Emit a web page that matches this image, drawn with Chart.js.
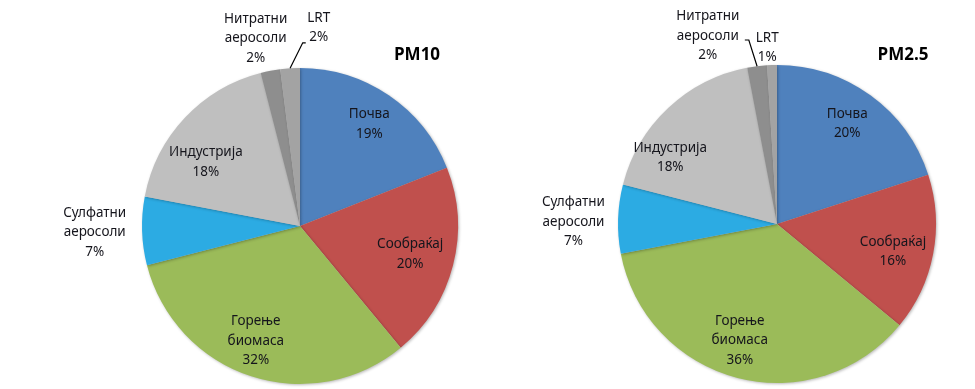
<!DOCTYPE html>
<html><head><meta charset="utf-8">
<script src="https://cdn.jsdelivr.net/npm/chart.js@4"></script>
<style>
html,body{margin:0;padding:0;background:#fff;width:975px;height:389px;overflow:hidden}
.box{position:absolute;top:0;height:389px}
</style></head><body>
<div class="box" style="left:0;width:487px"><canvas id="c1"></canvas></div>
<div class="box" style="left:487px;width:488px"><canvas id="c2"></canvas></div>
<script>
// ---- data ----
const categories = [["Почва"],["Сообраќај"],["Горење","биомаса"],["Сулфатни","аеросоли"],["Индустрија"],["Нитратни","аеросоли"],["LRT"]];
const pm10Values = [19, 20, 32, 7, 18, 2, 2];
const pm25Values = [20, 16, 36, 7, 18, 2, 1];
const titles = ["PM10", "PM2.5"];

// ---- styling / placement ----
const colors = ["#4F81BD","#C0504D","#9BBB59","#2CABE3","#BFBFBF","#8E8E8E","#A3A3A3"];
// label placement: angle delta (deg) from slice mid-angle, radial factor
const place1 = [[0,.78],[0,.72],[3,.78],[0,1.3],[-9,.72],[-2.5,1.22],[9,1.26]];
const place2 = [[-1,.77],[2.7,.75],[3.3,.77],[-1.2,1.28],[-15,.79],[-13,1.26],[-1.4,1.11]];
// leader lines: slice index, px offsets relative to label center for the bend and end
const leader1 = {idx:6, pts:[[-16,15],[-13,15]]};
const leader2 = {idx:5, pts:[[41,4],[37,4]]};

function labelPlugin(place, leader, title, titlePos){
  return {
    id:'lbl',
    beforeDatasetsDraw(chart){
      const ctx=chart.ctx; ctx.save();
      ctx.shadowColor='rgba(0,0,0,0.28)'; ctx.shadowBlur=3; ctx.shadowOffsetX=1; ctx.shadowOffsetY=1;
    },
    afterDatasetsDraw(chart){
      const ctx=chart.ctx; ctx.restore();
      const meta=chart.getDatasetMeta(0);
      const vals=chart.data.datasets[0].data;
      ctx.save();
      ctx.font='13.5px "Noto Sans", "Open Sans", sans-serif';
      ctx.fillStyle='#15151c';
      ctx.textAlign='center'; ctx.textBaseline='middle';
      meta.data.forEach((arc,i)=>{
        const p=arc.getProps(['x','y','startAngle','endAngle','outerRadius'],true);
        const mid=(p.startAngle+p.endAngle)/2 + place[i][0]*Math.PI/180;
        const r=p.outerRadius*place[i][1];
        const cx=p.x+Math.cos(mid)*r, cy=p.y+Math.sin(mid)*r;
        const lines=[...chart.data.labels[i], vals[i]+'%'];
        const lh=19.5;
        lines.forEach((t,k)=>{
          ctx.fillText(t, cx, cy+(k-(lines.length-1)/2)*lh);
        });
        if(leader && leader.idx===i){
          const m=(p.startAngle+p.endAngle)/2;
          const ex=p.x+Math.cos(m)*p.outerRadius, ey=p.y+Math.sin(m)*p.outerRadius;
          ctx.beginPath(); ctx.strokeStyle='#000'; ctx.lineWidth=1.2;
          ctx.moveTo(ex,ey);
          leader.pts.forEach(q=>ctx.lineTo(cx+q[0], cy+q[1]));
          ctx.stroke();
        }
      });
      ctx.font='bold 17px "Open Sans", "Noto Sans", sans-serif';
      ctx.fillStyle='#000';
      ctx.fillText(title, titlePos[0], titlePos[1]);
      ctx.restore();
    }
  };
}

function makePie(id, values, place, leader, title, titlePos, pad){
  return new Chart(document.getElementById(id), {
    type:'pie',
    data:{labels:categories, datasets:[{data:values, backgroundColor:colors, borderWidth:0, hoverOffset:0}]},
    options:{
      responsive:true, maintainAspectRatio:false, animation:false,
      layout:{padding:pad},
      rotation:0,
      plugins:{legend:{display:false}, tooltip:{enabled:false}, title:{display:false}},
      events:[]
    },
    plugins:[labelPlugin(place, leader, title, titlePos)]
  });
}
makePie('c1', pm10Values, place1, leader1, titles[0], [417,55], {left:142,right:29,top:68,bottom:5});
makePie('c2', pm25Values, place2, leader2, titles[1], [416,55], {left:131,right:39,top:65,bottom:6});
</script>
</body></html>
